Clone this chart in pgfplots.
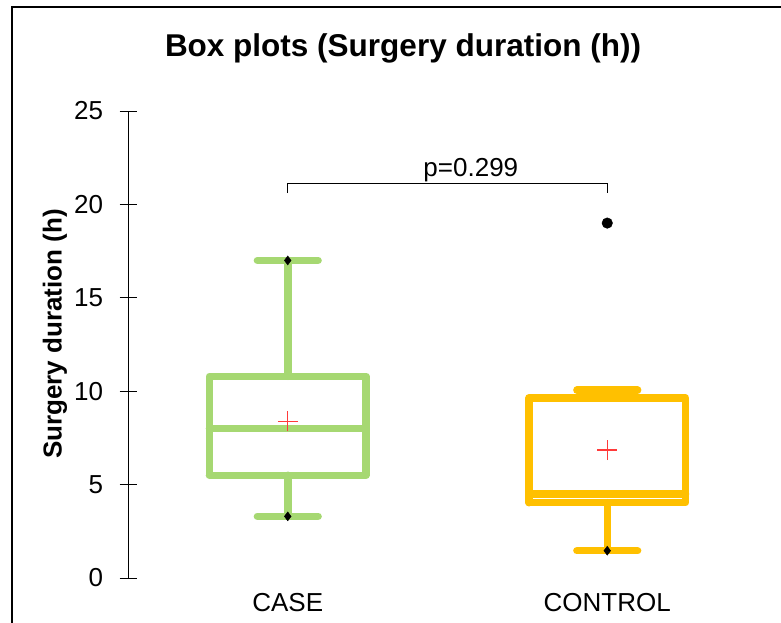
\documentclass[border=0pt]{standalone}
\usepackage{pgfplots}
\pgfplotsset{compat=1.18}
\usepackage{fontspec}
\setmainfont{Liberation Sans}
\definecolor{cgreen}{HTML}{A6D872}
\definecolor{cyellow}{HTML}{FFC000}
\definecolor{cred}{HTML}{FF3A3A}
\begin{document}
\begin{tikzpicture}
\useasboundingbox (0pt,0pt) rectangle (781pt,623pt);
\draw[line width=1.6pt] (12pt,-10pt) -- (12pt,616pt) -- (800pt,616pt);
\node[font=\bfseries\fontsize{31.5}{36}\selectfont, anchor=base] at (403pt,566pt) {Box plots (Surgery duration (h))};
\begin{axis}[
  at={(128pt,45pt)}, anchor=south west,
  scale only axis, width=639pt, height=467pt,
  xmin=0.5, xmax=2.5, ymin=0, ymax=25,
  axis y line=left, axis x line=bottom,
  x axis line style={draw=none},
  y axis line style={-, line width=0.8pt, black},
  xtick={1,2}, xticklabels={CASE,CONTROL},
  xtick style={draw=none},
  ytick={0,5,10,15,20,25},
  ytick style={line width=0.8pt, black},
  tick align=center, major tick length=17pt,
  ticklabel style={font=\fontsize{26}{30}\selectfont},
  yticklabel style={xshift=-13pt},
  xticklabel style={yshift=-3pt},
  /pgf/number format/assume math mode=true,
  ylabel={Surgery duration (h)},
  every axis y label/.style={at={([xshift=-73pt]axis description cs:0,0.5225)}, rotate=90, anchor=center, font=\bfseries\fontsize{26}{30}\selectfont},
  clip=false,
  boxline/.style={line width=7.5pt, line cap=round, line join=round, mark=none},
  meanline/.style={cred, line width=1.1pt, mark=none},
]
% CASE box (Q1=5.5, median=8.0, Q3=10.8, whiskers 3.3 and 17)
\addplot[boxline, cgreen] coordinates {(0.755,5.5) (1.245,5.5) (1.245,10.8) (0.755,10.8) (0.755,5.5)};
\addplot[boxline, cgreen] coordinates {(0.755,8.0) (1.245,8.0)};
\addplot[boxline, cgreen] coordinates {(1,5.5) (1,3.3)};
\addplot[boxline, cgreen] coordinates {(0.905,3.3) (1.095,3.3)};
\addplot[boxline, cgreen] coordinates {(1,10.8) (1,17)};
\addplot[boxline, cgreen] coordinates {(0.905,17) (1.095,17)};
% CONTROL box (Q1=4.03, median=4.5, Q3=9.64, whiskers 1.46 and 10.06)
\addplot[boxline, cyellow] coordinates {(1.755,4.03) (2.245,4.03) (2.245,9.64) (1.755,9.64) (1.755,4.03)};
\addplot[boxline, cyellow] coordinates {(1.755,4.5) (2.245,4.5)};
\addplot[boxline, cyellow] coordinates {(2,4.03) (2,1.46)};
\addplot[boxline, cyellow] coordinates {(1.905,1.46) (2.095,1.46)};
\addplot[boxline, cyellow] coordinates {(2,9.64) (2,10.06)};
\addplot[boxline, cyellow] coordinates {(1.905,10.06) (2.095,10.06)};
% outlier, min/max
\addplot[only marks, mark=*, black, mark size=5.3pt] coordinates {(2,19)};
\addplot[only marks, mark=diamond*, black, mark size=4.5pt] coordinates {(1,17) (1,3.3) (2,1.46)};
% means (CASE 8.4, CONTROL 6.85) drawn as red crosses
\addplot[meanline] coordinates {(0.969,8.4) (1.031,8.4)};
\addplot[meanline] coordinates {(1,7.865) (1,8.935)};
\addplot[meanline] coordinates {(1.969,6.85) (2.031,6.85)};
\addplot[meanline] coordinates {(2,6.315) (2,7.385)};
% p-value bracket
\addplot[black, line width=0.8pt, mark=none] coordinates {(1,20.6) (1,21.15) (2,21.15) (2,20.6)};
\node[anchor=base, inner sep=0pt, font=\fontsize{26}{30}\selectfont] at (axis cs:1.573,21.15) [yshift=6pt] {p=0.299};
\end{axis}
\end{tikzpicture}
\end{document}
